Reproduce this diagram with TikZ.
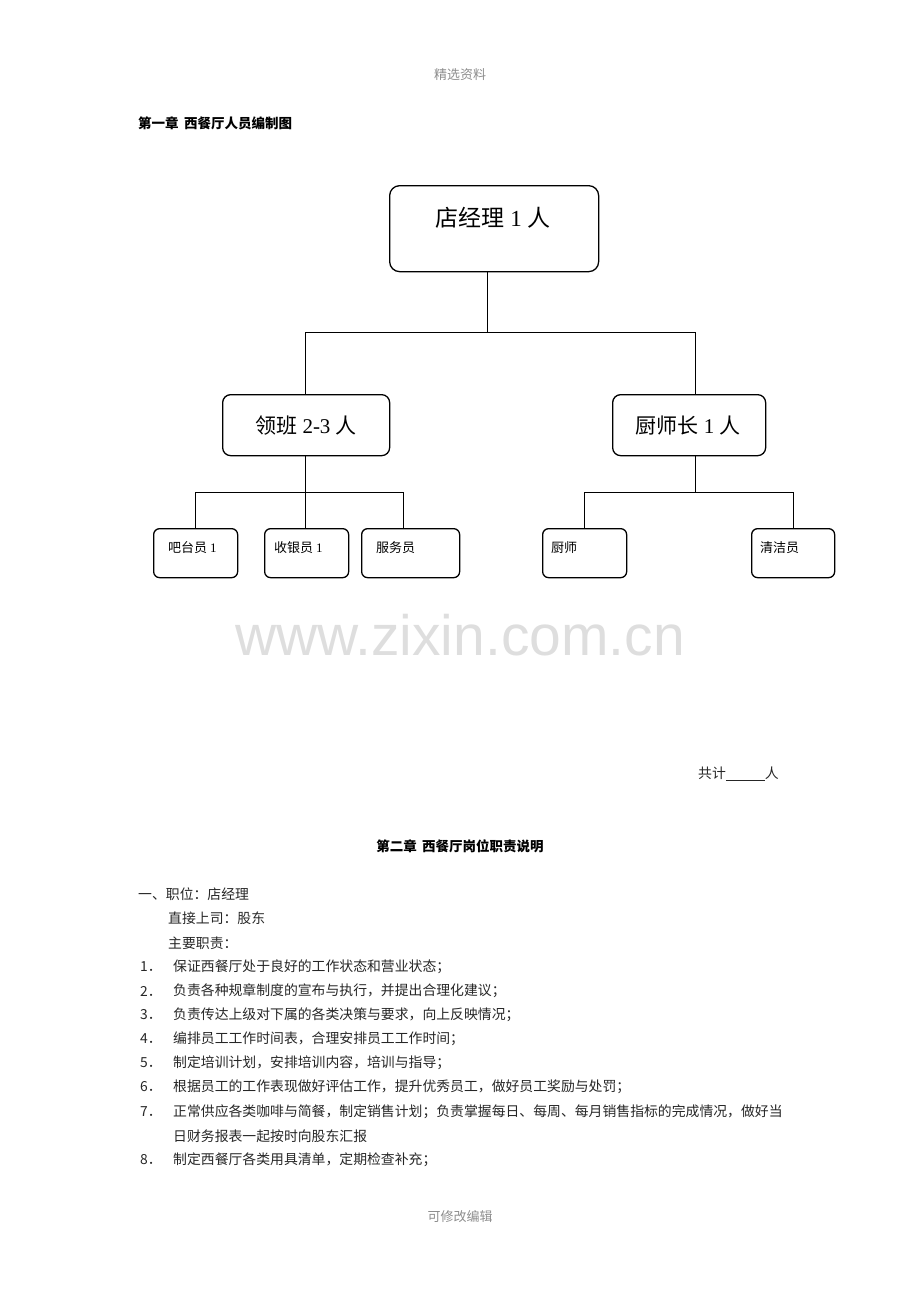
\documentclass[tikz,border=0pt]{standalone}
\usepackage{fontspec}
\setmainfont{Liberation Serif}
\newfontfamily\cjk{Noto Sans CJK SC}
\newfontfamily\wmfont{Liberation Sans}
\begin{document}
\begin{tikzpicture}[x=1pt,y=-1pt,
  box/.style={draw, line width=1.3pt, rounded corners=8pt, inner sep=0pt, anchor=north west},
  conn/.style={draw, line width=0.9pt},
  big/.style={font=\fontsize{23}{26}\selectfont, inner sep=0pt},
  mid/.style={font=\fontsize{21}{24}\selectfont, inner sep=0pt},
  small/.style={font=\fontsize{13}{15}\selectfont\cjk, inner sep=0pt, anchor=west},
  body/.style={font=\fontsize{13.85}{16}\selectfont\cjk, inner sep=0pt, anchor=west, text=black!85},
  head/.style={font=\fontsize{13.5}{16}\selectfont\cjk\bfseries, inner sep=0pt},
  grey/.style={font=\fontsize{13}{16}\selectfont\cjk, inner sep=0pt, text=black!45}
]
\useasboundingbox (0,0) rectangle (920,1302);

% header / footer
\node[grey] (hdr) at (460,75) {精选资料};
\node[grey] (ftr) at (460,1217) {可修改编辑};

\node[head, anchor=west] (t1) at (138,123) {第一章\hspace{0.4em}西餐厅人员编制图};

% watermark
\node[inner sep=0pt, text=black!13, font=\fontsize{57}{60}\selectfont\wmfont] (wm) at (460,635) {www.zixin.com.cn};

% boxes
\node[box, rounded corners=10pt, minimum width=209, minimum height=86] (mgr) at (389,185) {};
\node[big] (mgrT) at (493,218) {{\cjk 店经理} 1 {\cjk 人}};

\node[box, minimum width=167, minimum height=61] (lead) at (222,394) {};
\node[mid] (leadT) at (306,426) {{\cjk 领班} 2-3 {\cjk 人}};

\node[box, minimum width=153, minimum height=61] (chef) at (612,394) {};
\node[mid] (chefT) at (688,426) {{\cjk 厨师长} 1 {\cjk 人}};

\node[box, rounded corners=6pt, minimum width=84, minimum height=49] (bar) at (153,528) {};
\node[small] (barT) at (168,548) {吧台员 {\rmfamily 1}};
\node[box, rounded corners=6pt, minimum width=84, minimum height=49] (cash) at (264,528) {};
\node[small] (cashT) at (274,548) {收银员 {\rmfamily 1}};
\node[box, rounded corners=6pt, minimum width=98, minimum height=49] (serv) at (361,528) {};
\node[small] (servT) at (376,548) {服务员};
\node[box, rounded corners=6pt, minimum width=84, minimum height=49] (cook) at (542,528) {};
\node[small] (cookT) at (551,548) {厨师};
\node[box, rounded corners=6pt, minimum width=83, minimum height=49] (clean) at (751,528) {};
\node[small] (cleanT) at (760,548) {清洁员};

% connectors
\coordinate (j0) at (487,332);
\coordinate (j1) at (305,492);
\coordinate (j2) at (695,492);
\draw[conn] (mgr.south -| j0) -- (j0);
\draw[conn] (305,332) -- (695,332);
\draw[conn] (305,332) -- (305,394);
\draw[conn] (695,332) -- (695,394);
\draw[conn] (lead.south -| j1) -- (j1);
\draw[conn] (195,492) -- (403,492);
\draw[conn] (195,492) -- (bar.north -| 195,0);
\draw[conn] (j1) -- (cash.north -| j1);
\draw[conn] (403,492) -- (serv.north -| 403,0);
\draw[conn] (chef.south -| j2) -- (j2);
\draw[conn] (584,492) -- (793,492);
\draw[conn] (584,492) -- (cook.north -| 584,0);
\draw[conn] (793,492) -- (clean.north -| 793,0);

% total
\node[body, anchor=west] (tot) at (698,774) {共计\underline{\hspace{39pt}}人};

\node[head] (t2) at (460,846) {第二章\hspace{0.4em}西餐厅岗位职责说明};

\node[body] (l1) at (138,894) {一、职位：店经理};
\node[body] (l2) at (168,918) {直接上司：股东};
\node[body] (l3) at (168,943) {主要职责：};

\node[body] (n1) at (140,967) {1．};
\node[body] (i1) at (173,967) {保证西餐厅处于良好的工作状态和营业状态；};
\node[body] (n2) at (140,991) {2．};
\node[body] (i2) at (173,991) {负责各种规章制度的宣布与执行，并提出合理化建议；};
\node[body] (n3) at (140,1015) {3．};
\node[body] (i3) at (173,1015) {负责传达上级对下属的各类决策与要求，向上反映情况；};
\node[body] (n4) at (140,1039) {4．};
\node[body] (i4) at (173,1039) {编排员工工作时间表，合理安排员工工作时间；};
\node[body] (n5) at (140,1063) {5．};
\node[body] (i5) at (173,1063) {制定培训计划，安排培训内容，培训与指导；};
\node[body] (n6) at (140,1087) {6．};
\node[body] (i6) at (173,1087) {根据员工的工作表现做好评估工作，提升优秀员工，做好员工奖励与处罚；};
\node[body] (n7) at (140,1112) {7．};
\node[body] (i7) at (173,1112) {正常供应各类咖啡与简餐，制定销售计划；负责掌握每日、每周、每月销售指标的完成情况，做好当};
\node[body] (i7b) at (173,1136) {日财务报表一起按时向股东汇报};
\node[body] (n8) at (140,1160) {8．};
\node[body] (i8) at (173,1160) {制定西餐厅各类用具清单，定期检查补充；};
\end{tikzpicture}
\end{document}
